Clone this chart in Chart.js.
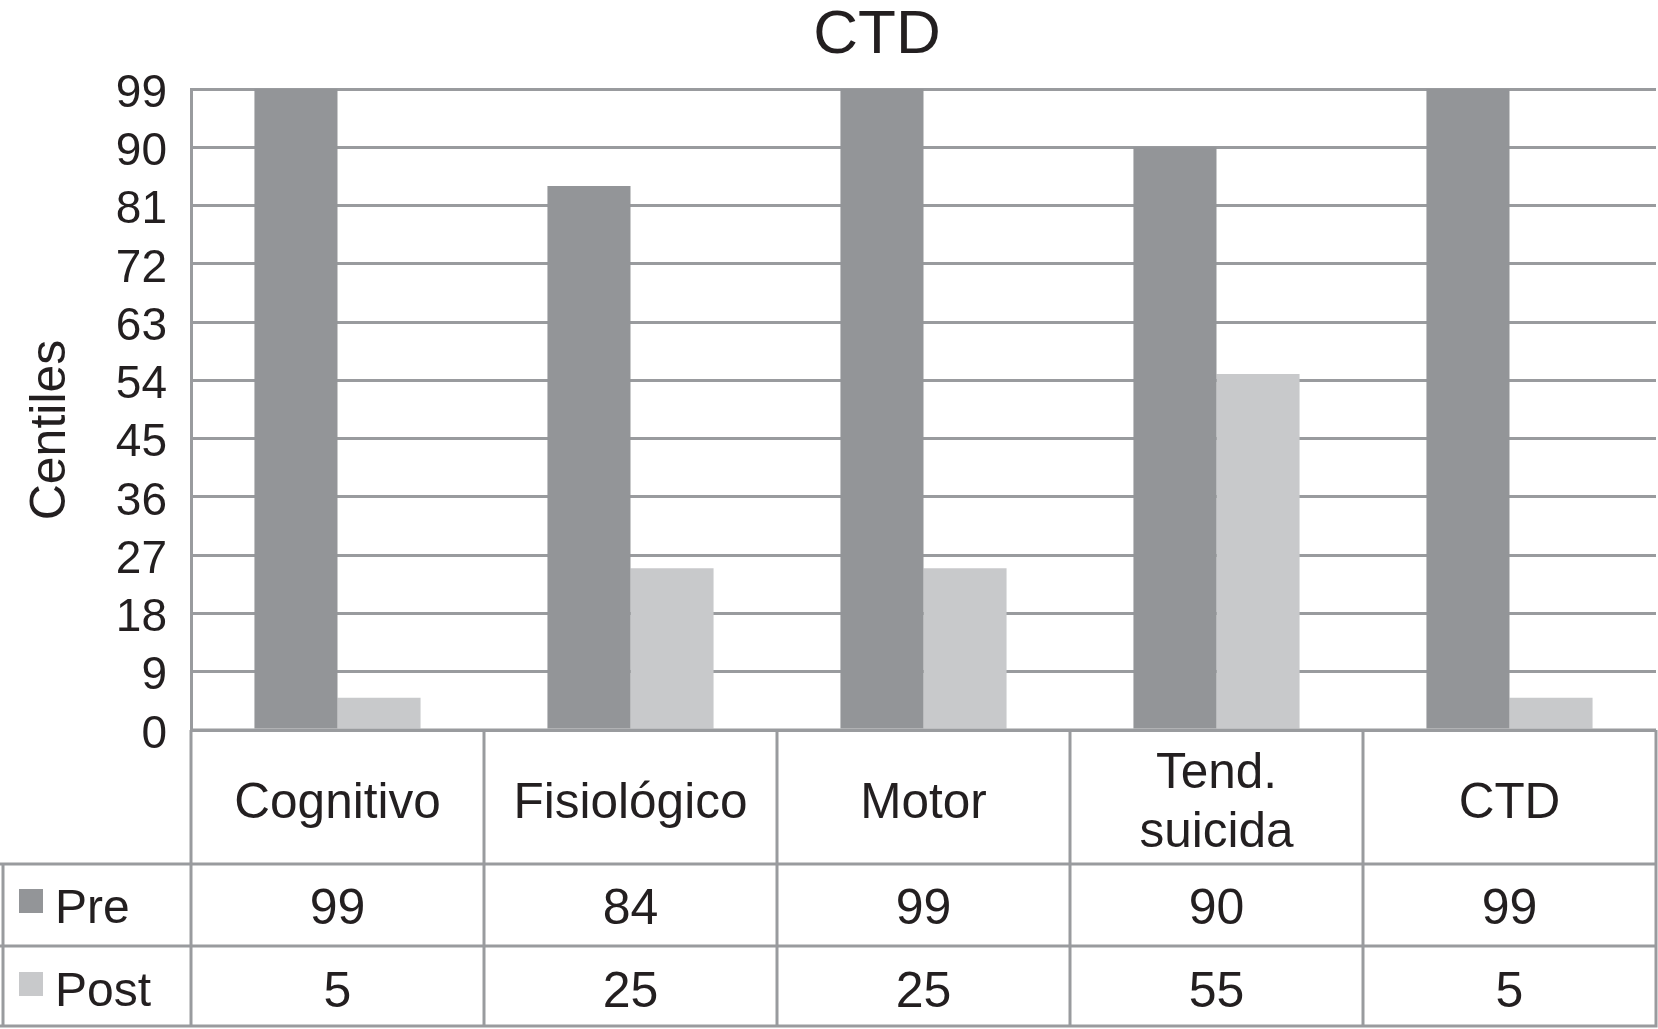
<!DOCTYPE html>
<html>
<head>
<meta charset="utf-8">
<title>CTD</title>
<script src="https://cdn.jsdelivr.net/npm/chart.js@4.4.1/dist/chart.umd.min.js"></script>
<style>
  html, body { margin: 0; padding: 0; background: #fff; }
  #wrap { width: 1658px; height: 1029px; position: relative; }
</style>
</head>
<body>
<div id="wrap"><canvas id="chart"></canvas></div>
<script>
// Data
const categories = ["Cognitivo", "Fisiológico", "Motor", ["Tend.", "suicida"], "CTD"];
const preValues = [99, 84, 99, 90, 99];
const postValues = [5, 25, 25, 55, 5];
const yTicks = [0, 9, 18, 27, 36, 45, 54, 63, 72, 81, 90, 99];

const chartTitle = "CTD";
const yTitle = "Centiles";

// Styles
const FONT = "'Liberation Sans', Arial, Helvetica, sans-serif";
const TEXT = "#231f20";
const LINE = "#999b9e";
const PRE_COLOR = "#939598";
const POST_COLOR = "#c8c9cb";

// Table rows under the plot (y pixel rows)
const HEADER_TOP = 730, HEADER_BOTTOM = 864, PRE_BOTTOM = 946, POST_BOTTOM = 1026;

// Draw the title, the y axis title and the data table
const tablePlugin = {
  id: "dataTable",
  afterDraw(chart) {
    const ctx = chart.ctx;
    const area = chart.chartArea;
    const n = categories.length;
    const cw = (area.right - area.left) / n;

    ctx.save();

    // chart title
    ctx.fillStyle = TEXT;
    ctx.font = "62px " + FONT;
    ctx.textAlign = "center";
    ctx.textBaseline = "alphabetic";
    ctx.fillText(chartTitle, 877, 53);

    // y axis title
    ctx.save();
    ctx.translate(51, 430);
    ctx.rotate(-Math.PI / 2);
    ctx.font = "50px " + FONT;
    ctx.textBaseline = "middle";
    ctx.fillText(yTitle, 0, 0);
    ctx.restore();

    // table lines
    ctx.strokeStyle = LINE;
    ctx.lineWidth = 3;
    ctx.beginPath();
    ctx.moveTo(area.left, HEADER_TOP);
    ctx.lineTo(area.right, HEADER_TOP);
    [HEADER_BOTTOM, PRE_BOTTOM, POST_BOTTOM].forEach(y => {
      ctx.moveTo(0, y);
      ctx.lineTo(area.right, y);
    });
    ctx.moveTo(3, HEADER_BOTTOM);
    ctx.lineTo(3, POST_BOTTOM + 1.5);
    for (let i = 0; i <= n; i++) {
      const x = area.left + i * cw;
      ctx.moveTo(x, area.bottom);
      ctx.lineTo(x, POST_BOTTOM + 1.5);
    }
    ctx.stroke();

    // header labels
    ctx.fillStyle = TEXT;
    ctx.font = "49.5px " + FONT;
    ctx.textAlign = "center";
    ctx.textBaseline = "middle";
    const headerMid = 804;
    categories.forEach((label, i) => {
      const cx = chart.scales.x.getPixelForValue(i);
      const lines = Array.isArray(label) ? label : [label];
      const lh = 59;
      const start = headerMid - (lines.length - 1) * lh / 2;
      lines.forEach((t, j) => ctx.fillText(t, cx, start + j * lh));
    });

    // series rows
    const rows = [
      { name: "Pre", color: PRE_COLOR, values: preValues, textY: 910, boxY: 889 },
      { name: "Post", color: POST_COLOR, values: postValues, textY: 993, boxY: 972 }
    ];
    rows.forEach(r => {
      ctx.fillStyle = r.color;
      ctx.fillRect(19, r.boxY, 24, 24);
      ctx.fillStyle = TEXT;
      ctx.font = "48px " + FONT;
      ctx.textAlign = "left";
      ctx.fillText(r.name, 55, r.textY);
      ctx.font = "50px " + FONT;
      ctx.textAlign = "center";
      r.values.forEach((v, i) => {
        ctx.fillText(String(v), chart.scales.x.getPixelForValue(i), r.textY);
      });
    });

    ctx.restore();
  }
};

new Chart(document.getElementById("chart"), {
  type: "bar",
  data: {
    labels: categories,
    datasets: [
      { label: "Pre", data: preValues, backgroundColor: PRE_COLOR, borderWidth: 0 },
      { label: "Post", data: postValues, backgroundColor: POST_COLOR, borderWidth: 0 }
    ]
  },
  options: {
    responsive: true,
    maintainAspectRatio: false,
    devicePixelRatio: 1,
    animation: false,
    layout: { padding: { top: 89, bottom: 299, left: 0, right: 2 } },
    datasets: { bar: { categoryPercentage: 0.567, barPercentage: 1.0 } },
    plugins: {
      legend: { display: false },
      title: { display: false },
      tooltip: { enabled: false }
    },
    scales: {
      x: { display: false },
      y: {
        min: 0,
        max: 99,
        afterBuildTicks: scale => { scale.ticks = yTicks.map(v => ({ value: v })); },
        afterFit: scale => { scale.width = 191; },
        ticks: {
          color: TEXT,
          font: { family: FONT, size: 46 },
          padding: 24,
          labelOffset: 5
        },
        grid: { color: LINE, lineWidth: 3, drawTicks: false },
        border: { display: true, color: LINE, width: 3 }
      }
    }
  },
  plugins: [tablePlugin]
});
</script>
</body>
</html>
